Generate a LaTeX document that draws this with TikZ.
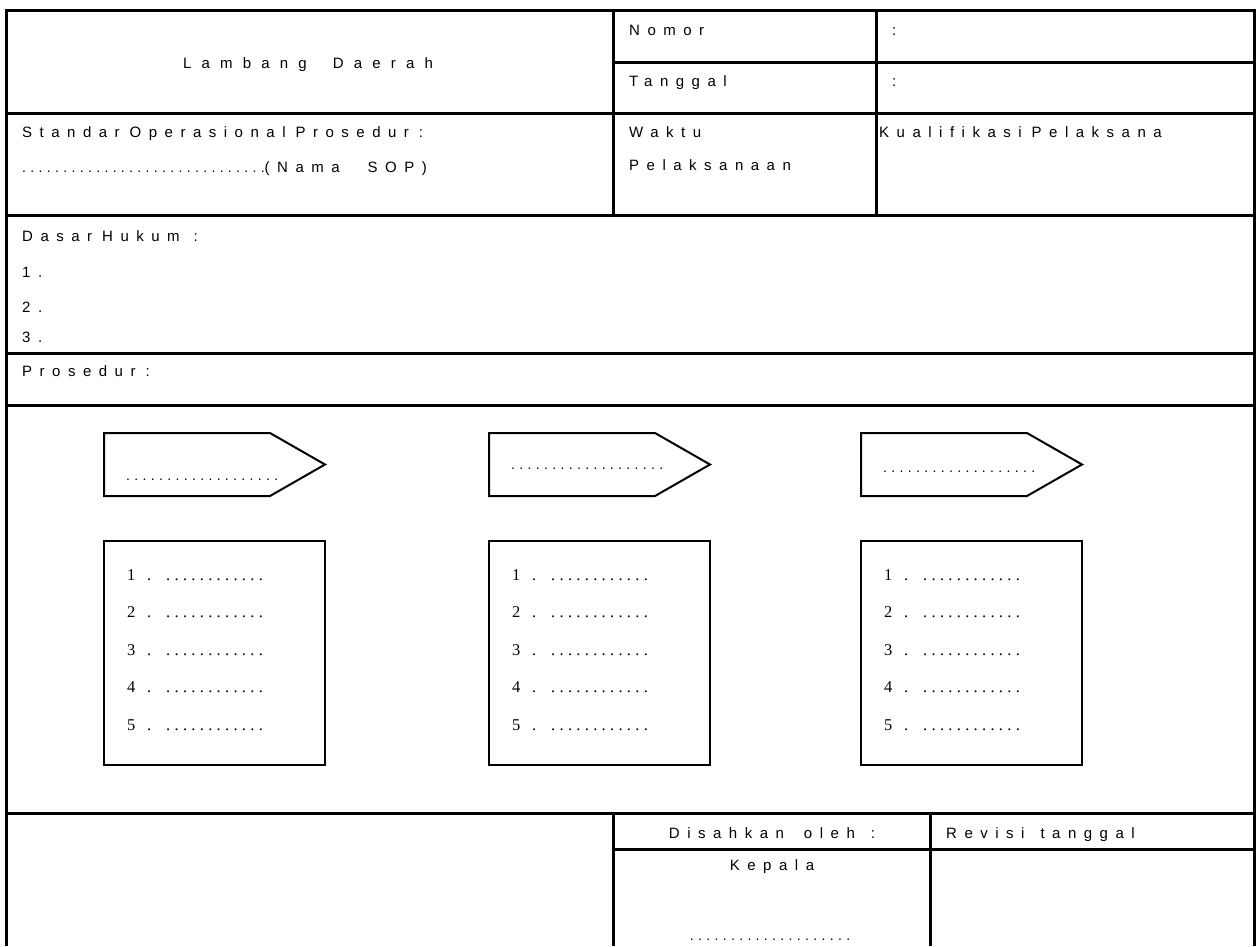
\documentclass[tikz,border=0pt]{standalone}
\usepackage{fontspec}
\setmainfont{Liberation Sans}
\newfontfamily\lsfont[LetterSpace=50]{Liberation Sans}
\newfontfamily\lswide[LetterSpace=68]{Liberation Sans}
\newfontfamily\dotfont[LetterSpace=31]{Liberation Sans}
\newfontfamily\serfont[LetterSpace=26]{Liberation Serif}
\newcommand{\wsp}[1]{\hspace*{#1pt}}
\begin{document}
\begin{tikzpicture}[x=1pt,y=-1pt,
  tbl/.style={line width=3pt},
  boxline/.style={line width=2.5pt},
  penline/.style={line width=2pt, line join=miter},
  lbl/.style={font=\fontsize{15}{17}\selectfont\lsfont, inner sep=0pt, anchor=base west},
  clbl/.style={font=\fontsize{15}{17}\selectfont\lsfont, inner sep=0pt, anchor=base},
  dots/.style={font=\fontsize{14}{16}\selectfont\dotfont, inner sep=0pt, anchor=base west},
  item/.style={font=\fontsize{16.5}{18}\selectfont\serfont, inner sep=0pt, anchor=base west}]
\useasboundingbox (0,0) rectangle (1256,946);
% frame
\draw[tbl] (6,946) -- (6,10) -- (1254,10) -- (1254,946);
\foreach \y in {113,215,353,405,813} \draw[tbl] (6,\y) -- (1254,\y);
\draw[tbl] (613,10) -- (613,215);
\draw[tbl] (876,10) -- (876,215);
\draw[tbl] (613,62) -- (1254,62);
\draw[tbl] (613,813) -- (613,946);
\draw[tbl] (930,813) -- (930,946);
\draw[tbl] (613,849) -- (1254,849);
% header texts
\node[clbl, font=\fontsize{15}{17}\selectfont\lswide] (lambang) at (308,68) {Lambang\wsp{26}Daerah};
\node[lbl] (nomor) at (629,35) {Nomor};
\node[lbl] (nomorc) at (892,35) {:};
\node[lbl] (tanggal) at (629,86) {Tanggal};
\node[lbl] (tanggalc) at (892,86) {:};
\node[lbl] (sop) at (22,137) {Standar\wsp{10}Operasional\wsp{10}Prosedur\wsp{10}:};
\node[lbl] (namasop) at (22,172) {{\fontsize{14}{16}\selectfont\dotfont ..............................}(Nama\wsp{28}SOP)};
\node[lbl] (waktu) at (629,137) {Waktu};
\node[lbl] (pelaks) at (629,170) {Pelaksanaan};
\node[lbl] (kualif) at (879,137) {Kualifikasi\wsp{10}Pelaksana};
\node[lbl] (dasar) at (22,241) {Dasar\wsp{10}Hukum\wsp{14}:};
\node[lbl] (d1) at (22,277) {1.};
\node[lbl] (d2) at (22,312) {2.};
\node[lbl] (d3) at (22,342) {3.};
\node[lbl] (prosedur) at (22,376) {Prosedur\wsp{10}:};
% pentagons
\foreach \x/\n/\dy in {104/a/480,489/b/469,861/c/472}{
  \draw[penline] (\x,433) -- (\x+166,433) -- (\x+221,464.5) -- (\x+166,496) -- (\x,496) -- cycle;
  \node[dots] (pd\n) at (\x+22,\dy) {...................};
  \draw[boxline] (\x,541) rectangle (\x+221,765);
  \foreach \k [count=\i] in {580,617.5,655,692.5,730}{
    \node[item] (it\n\i) at (\x+23,\k) {\makebox[20pt][l]{\i}\makebox[19pt][l]{.}............};
  }
}
% bottom
\node[clbl] (disahkan) at (772,838) {Disahkan\wsp{20}oleh\wsp{16}:};
\node[lbl] (revisi) at (946,838) {Revisi\wsp{16}tanggal};
\node[clbl] (kepala) at (772,870) {Kepala};
\node[dots, anchor=base] (kdots) at (770,940) {....................};
\end{tikzpicture}
\end{document}
